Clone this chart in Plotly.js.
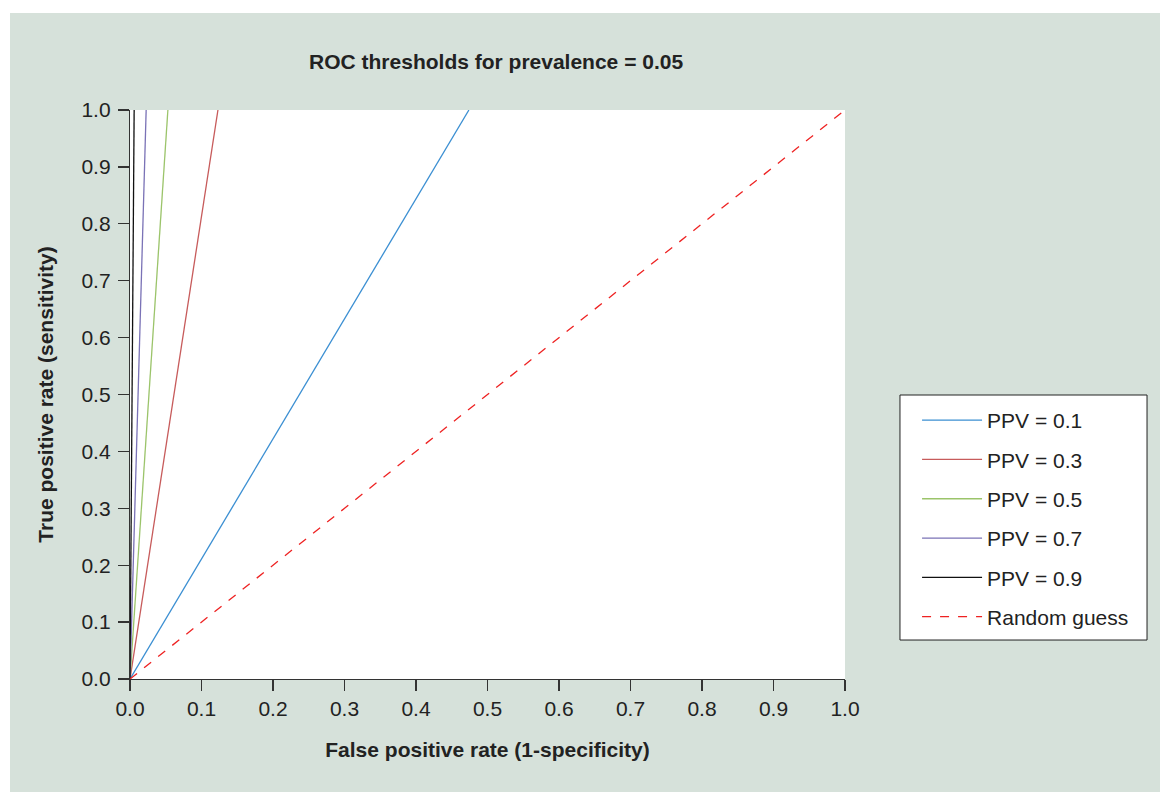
<!DOCTYPE html>
<html>
<head>
<meta charset="utf-8">
<script src="https://cdn.plot.ly/plotly-3.0.1.min.js"></script>
<style>
  html, body { margin: 0; padding: 0; background: #ffffff; }
  #wrap { position: absolute; left: 10px; top: 13px; width: 1150px; height: 779px; }
</style>
</head>
<body>
<div id="wrap"></div>
<script>
// Data (each PPV line runs from origin to where it meets TPR = 1)
const seriesNames = ["PPV = 0.1", "PPV = 0.3", "PPV = 0.5", "PPV = 0.7", "PPV = 0.9", "Random guess"];
const fprPPV01 = [0, 0.474];
const fprPPV03 = [0, 0.123];
const fprPPV05 = [0, 0.053];
const fprPPV07 = [0, 0.0226];
const fprPPV09 = [0, 0.0058];
const fprRandom = [0, 1];
const tprPPV = [0, 1];
const tprRandom = [0, 1];
const tickVals = [0, 0.1, 0.2, 0.3, 0.4, 0.5, 0.6, 0.7, 0.8, 0.9, 1.0];
const tickText = ["0.0", "0.1", "0.2", "0.3", "0.4", "0.5", "0.6", "0.7", "0.8", "0.9", "1.0"];

const colors = ["#3b8fd2", "#c75b5b", "#9bc46a", "#7a72b6", "#111111", "#ee2222"];
const xs = [fprPPV01, fprPPV03, fprPPV05, fprPPV07, fprPPV09, fprRandom];
const ys = [tprPPV, tprPPV, tprPPV, tprPPV, tprPPV, tprRandom];

const traces = seriesNames.map((n, i) => ({
  x: xs[i], y: ys[i], name: n, mode: "lines", type: "scatter",
  legendgroup: "g" + i,
  line: { color: colors[i], width: 1.3, dash: i === 5 ? "9px,9px" : "solid" },
  hoverinfo: "skip"
}));

const fam = "Liberation Sans, Arial, Helvetica, sans-serif";
const txt = "#222222";

const axisCommon = {
  range: [0, 1],
  tickmode: "array",
  tickvals: tickVals,
  ticktext: tickText,
  showgrid: false,
  zeroline: false,
  showline: true,
  linecolor: "#333333",
  linewidth: 1.2,
  ticks: "outside",
  ticklen: 11,
  tickwidth: 1.2,
  tickcolor: "#333333",
  tickfont: { family: fam, size: 21, color: txt },
  mirror: false,
  fixedrange: true,
  automargin: false
};

const layout = {
  width: 1150,
  height: 779,
  paper_bgcolor: "#d6e1da",
  plot_bgcolor: "#ffffff",
  font: { family: fam, color: txt },
  margin: { l: 120, r: 315, t: 97, b: 113 },
  title: {
    text: "<b>ROC thresholds for prevalence = 0.05</b>",
    font: { family: fam, size: 21, color: txt },
    xref: "paper", x: 0.512, xanchor: "center",
    yref: "container", y: 0.937, yanchor: "middle"
  },
  xaxis: Object.assign({}, axisCommon, {
    title: { text: "<b>False positive rate (1-specificity)</b>", font: { family: fam, size: 21, color: txt }, standoff: 22 }
  }),
  yaxis: Object.assign({}, axisCommon, {
    ticklabelstandoff: 3,
    title: { text: "<b>True positive rate (sensitivity)</b>", font: { family: fam, size: 21, color: txt }, standoff: 22 }
  }),
  shapes: [{
    type: "rect", xref: "paper", yref: "paper",
    x0: 1.0769, x1: 1.4224, y0: 0.0685, y1: 0.4991,
    fillcolor: "#ffffff", line: { color: "#222222", width: 1 }, layer: "below"
  }],
  showlegend: true,
  legend: {
    x: 1.077, xanchor: "left",
    y: 0.4903, yanchor: "top",
    bgcolor: "rgba(0,0,0,0)",
    borderwidth: 0,
    font: { family: fam, size: 21, color: txt },
    tracegroupgap: 9,
    itemwidth: 60,
    indentation: 17,
    traceorder: "grouped"
  }
};

Plotly.newPlot("wrap", traces, layout, { displayModeBar: false, staticPlot: true });
</script>
</body>
</html>
